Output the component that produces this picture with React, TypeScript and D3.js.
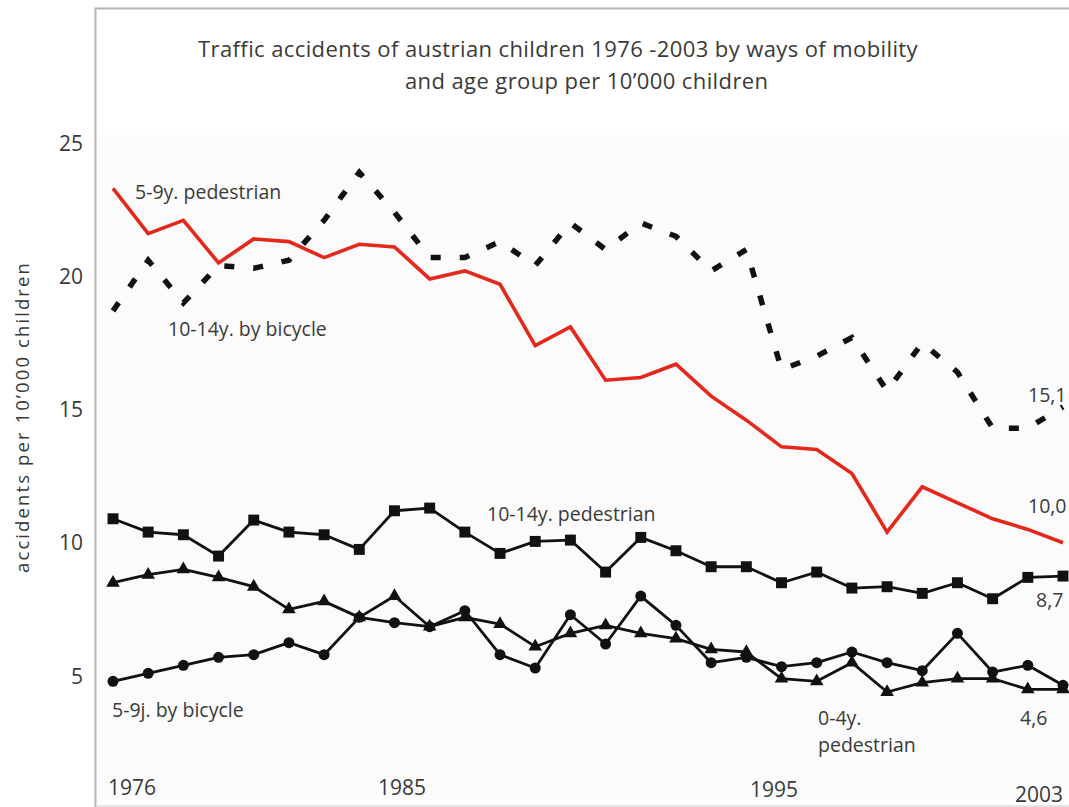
import React, { useEffect, useRef } from 'react';
import * as d3 from 'd3';

const years = [
  1976, 1977, 1978, 1979, 1980, 1981, 1982, 1983, 1984, 1985, 1986, 1987, 1988, 1989,
  1990, 1991, 1992, 1993, 1994, 1995, 1996, 1997, 1998, 1999, 2000, 2001, 2002, 2003,
];

// 5-9y. pedestrian (red)
const pedestrian59 = [
  23.3, 21.6, 22.1, 20.5, 21.4, 21.3, 20.7, 21.2, 21.1, 19.9, 20.2, 19.7, 17.4, 18.1,
  16.1, 16.2, 16.7, 15.5, 14.6, 13.6, 13.5, 12.6, 10.4, 12.1, 11.5, 10.9, 10.5, 10.0,
];

// 10-14y. by bicycle (dashed)
const bicycle1014 = [
  18.7, 20.6, 19.0, 20.4, 20.3, 20.6, 22.1, 23.9, 22.4, 20.7, 20.7, 21.3, 20.4, 22.0,
  21.0, 22.0, 21.5, 20.2, 21.0, 16.5, 17.0, 17.7, 15.7, 17.5, 16.4, 14.3, 14.3, 15.1,
];

// 10-14y. pedestrian (squares)
const pedestrian1014 = [
  10.9, 10.4, 10.3, 9.5, 10.85, 10.4, 10.3, 9.75, 11.2, 11.3, 10.4, 9.6, 10.05, 10.1,
  8.9, 10.2, 9.7, 9.1, 9.1, 8.5, 8.9, 8.3, 8.35, 8.1, 8.5, 7.9, 8.7, 8.75,
];

// 0-4y. pedestrian (triangles)
const pedestrian04 = [
  8.5, 8.8, 9.0, 8.7, 8.35, 7.5, 7.8, 7.2, 8.0, 6.85, 7.2, 6.95, 6.1, 6.6,
  6.9, 6.6, 6.4, 6.0, 5.9, 4.9, 4.8, 5.5, 4.4, 4.75, 4.9, 4.9, 4.5, 4.5,
];

// 5-9j. by bicycle (circles)
const bicycle59 = [
  4.8, 5.1, 5.4, 5.7, 5.8, 6.25, 5.8, 7.2, 7.0, 6.85, 7.45, 5.8, 5.3, 7.3,
  6.2, 8.0, 6.9, 5.5, 5.7, 5.35, 5.5, 5.9, 5.5, 5.2, 6.6, 5.15, 5.4, 4.65,
];

const yTicks = [5, 10, 15, 20, 25];
const yearLabels = [
  { year: '1976', x: 108, y: 795 },
  { year: '1985', x: 378, y: 795 },
  { year: '1995', x: 750, y: 797 },
  { year: '2003', x: 1015, y: 802 },
];

const seriesLabels = [
  { text: '5-9y. pedestrian', x: 135, y: 199 },
  { text: '10-14y. by bicycle', x: 168, y: 336 },
  { text: '10-14y. pedestrian', x: 487, y: 521 },
  { text: '5-9j. by bicycle', x: 112, y: 717 },
  { text: '0-4y.', x: 818, y: 725 },
  { text: 'pedestrian', x: 818, y: 752 },
  { text: '15,1', x: 1028, y: 402 },
  { text: '10,0', x: 1028, y: 513 },
  { text: '8,7', x: 1036, y: 607 },
  { text: '4,6', x: 1020, y: 725 },
];

const FONT = "'Open Sans', 'Noto Sans', sans-serif";
const TEXT = '#3a3a3a';

const App = () => {
  const ref = useRef<SVGSVGElement | null>(null);

  useEffect(() => {
    const svg = d3.select(ref.current);
    svg.selectAll('*').remove();

    const x = d3.scaleLinear().domain([1976, 2003]).range([113, 1063]);
    const y = d3.scaleLinear().domain([5, 25]).range([676, 143]);

    // frame
    svg.append('rect').attr('x', 96).attr('y', 135).attr('width', 973).attr('height', 665)
      .attr('fill', '#fbfbfb');
    svg.append('path')
      .attr('d', 'M95.5,807 V8.5 H1069')
      .attr('fill', 'none').attr('stroke', '#b5b5b5').attr('stroke-width', 2);
    svg.append('line').attr('x1', 96).attr('x2', 1069).attr('y1', 806).attr('y2', 806)
      .attr('stroke', '#dcdcdc').attr('stroke-width', 1.5);

    // title
    const title = svg.append('g').attr('font-family', FONT).attr('font-size', 22)
      .attr('letter-spacing', 0.4).attr('fill', TEXT);
    title.append('text').attr('x', 198).attr('y', 57)
      .text('Traffic accidents of austrian children 1976 -2003 by ways of mobility');
    title.append('text').attr('x', 405).attr('y', 89)
      .text('and age group per 10’000 children');

    // y axis labels
    svg.append('g').selectAll('text').data(yTicks).enter().append('text')
      .attr('x', 83).attr('y', d => y(d)).attr('dy', '0.36em')
      .attr('text-anchor', 'end').attr('font-family', FONT).attr('font-size', 21)
      .attr('fill', TEXT).text(d => d);

    svg.append('text')
      .attr('transform', 'translate(29,417) rotate(-90)')
      .attr('text-anchor', 'middle').attr('font-family', FONT).attr('font-size', 18.5)
      .attr('letter-spacing', 2.1).attr('fill', TEXT)
      .text('accidents per 10’000 children');

    // year labels
    svg.append('g').selectAll('text').data(yearLabels).enter().append('text')
      .attr('x', d => d.x).attr('y', d => d.y)
      .attr('font-family', FONT).attr('font-size', 21).attr('fill', TEXT)
      .text(d => d.year);

    const line = d3.line<number>().x((d, i) => x(years[i])).y(d => y(d));

    // dashed bicycle 10-14
    svg.append('path').datum(bicycle1014).attr('d', line)
      .attr('fill', 'none').attr('stroke', '#111').attr('stroke-width', 5.5)
      .attr('stroke-dasharray', '10,19');

    // black marker lines
    const markerSeries = [
      { values: pedestrian1014, symbol: d3.symbolSquare, size: 120 },
      { values: pedestrian04, symbol: d3.symbolTriangle, size: 80 },
      { values: bicycle59, symbol: d3.symbolCircle, size: 95 },
    ];
    markerSeries.forEach(s => {
      svg.append('path').datum(s.values).attr('d', line)
        .attr('fill', 'none').attr('stroke', '#111').attr('stroke-width', 2.8)
        .attr('stroke-linejoin', 'round');
      svg.append('g').selectAll('path').data(s.values).enter().append('path')
        .attr('d', d3.symbol().type(s.symbol).size(s.size))
        .attr('transform', (d, i) => `translate(${x(years[i])},${y(d)})`)
        .attr('fill', '#111');
    });

    // red pedestrian 5-9
    svg.append('path').datum(pedestrian59).attr('d', line)
      .attr('fill', 'none').attr('stroke', '#e4281c').attr('stroke-width', 3.6)
      .attr('stroke-linejoin', 'miter');

    // series labels
    svg.append('g').selectAll('text').data(seriesLabels).enter().append('text')
      .attr('x', d => d.x).attr('y', d => d.y)
      .attr('font-family', FONT).attr('font-size', 19.5).attr('fill', TEXT)
      .text(d => d.text);
  }, []);

  return (
    <svg
      ref={ref}
      width={1069}
      height={807}
      style={{ position: 'absolute', left: 0, top: 0, background: '#fff' }}
    />
  );
};

export default App;
